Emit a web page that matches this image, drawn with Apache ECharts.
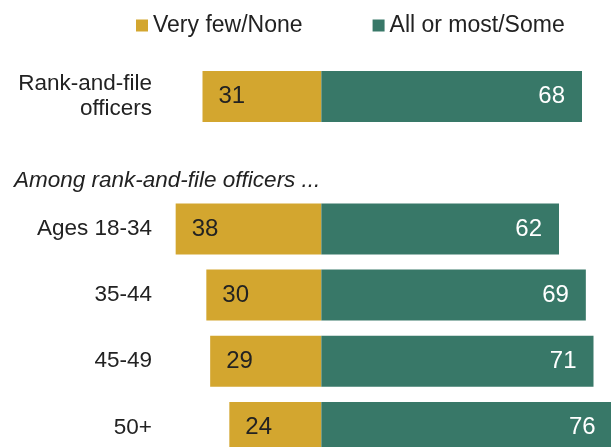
<!DOCTYPE html>
<html>
<head>
<meta charset="utf-8">
<script src="https://cdn.jsdelivr.net/npm/echarts@6/dist/echarts.min.js"></script>
<style>
html,body{margin:0;padding:0;background:#fff;}
#chart{width:611px;height:447px;}
</style>
</head>
<body>
<div id="chart"></div>
<script>
var categories = ['Rank-and-file\nofficers', '', 'Ages 18-34', '35-44', '45-49', '50+'];
var veryFewNone = [31, null, 38, 30, 29, 24];
var allMostSome = [68, null, 62, 69, 71, 76];
var seriesNames = ['Very few/None', 'All or most/Some'];
var subheading = 'Among rank-and-file officers ...';

var FONT = '"Liberation Sans", Arial, sans-serif';
var chart = echarts.init(document.getElementById('chart'), null, {renderer: 'canvas'});
chart.setOption({
  animation: false,
  textStyle: {fontFamily: FONT},
  title: {
    text: subheading,
    left: 9,
    top: 164,
    textStyle: {fontFamily: FONT, fontSize: 22.5, fontStyle: 'italic', fontWeight: 'normal', color: '#222'}
  },
  legend: {
    left: 131,
    top: 9,
    icon: 'rect',
    itemWidth: 12,
    itemHeight: 12,
    itemGap: 70,
    textStyle: {fontFamily: FONT, fontSize: 23, color: '#222'},
    data: seriesNames
  },
  grid: {left: 168, top: 63.5, width: 460, height: 397, containLabel: false, outerBoundsMode: 'none'},
  xAxis: {
    type: 'value', min: -40, max: 80,
    show: false
  },
  yAxis: {
    type: 'category', inverse: true, data: categories,
    axisLine: {show: false}, axisTick: {show: false}, splitLine: {show: false},
    axisLabel: {fontFamily: FONT, fontSize: 22.5, color: '#222', margin: 16, lineHeight: 25, align: 'right'}
  },
  series: [
    {
      name: seriesNames[0], type: 'bar', stack: 'total', barWidth: 51,
      itemStyle: {color: '#D3A62F'},
      data: veryFewNone.map(function(v){ return v == null ? null : -v; }),
      label: {show: true, position: 'insideLeft', distance: 16, fontFamily: FONT, fontSize: 24, color: '#222',
        formatter: function(p){ return Math.abs(p.value); }}
    },
    {
      name: seriesNames[1], type: 'bar', stack: 'total', barWidth: 51,
      itemStyle: {color: '#387868'},
      data: allMostSome,
      label: {show: true, position: 'insideRight', distance: 17, fontFamily: FONT, fontSize: 24, color: '#fff'}
    }
  ]
});
</script>
</body>
</html>
